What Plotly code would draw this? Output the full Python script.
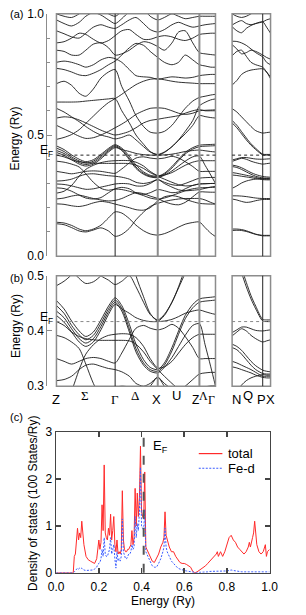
import plotly.graph_objects as go

# ---------------- data ----------------
K_MAIN = [0, 8, 16, 24, 31, 39, 47, 55, 62, 69, 77, 84, 92, 99, 107,
          114, 122, 129, 136, 144, 151, 157, 163, 168]
K_SIDE = [0, 5, 10, 15, 20, 25, 32.4, 36.5, 40.7]
SYM_MAIN = [62, 107, 151]          # Gamma, X, Z
SYM_SIDE = [32.4]                  # P
LABELS_MAIN = ['Z', 'Σ', 'Γ', 'Δ', 'X', 'U', 'Z', 'Λ', 'Γ']
LABEL_K_MAIN = [0, 30.2, 61.7, 82.7, 105.4, 126.7, 146.5, 155.0, 163.5]
LABELS_SIDE = ['N', 'Q', 'P', 'X']
LABEL_K_SIDE = [4.2, 16.7, 31.0, 40.7]
EF = 0.417
EF_DOS = 0.41

BANDS_MAIN = [
    [0.134,0.130,0.118,0.104,0.100,0.108,0.117,0.104,0.082, 0.090,0.115,0.150,0.182,0.205,0.218, 0.226,0.232,0.236,0.238,0.238,0.238, 0.232,0.222,0.215],
    [0.140,0.137,0.127,0.112,0.105,0.112,0.128,0.158,0.183, 0.178,0.155,0.128,0.105,0.092,0.087, 0.093,0.106,0.120,0.132,0.139,0.141, 0.118,0.095,0.081],
    [0.216,0.214,0.208,0.205,0.210,0.220,0.226,0.222,0.215, 0.208,0.200,0.192,0.190,0.200,0.228, 0.245,0.250,0.245,0.235,0.225,0.218, 0.216,0.215,0.215],
    [0.236,0.240,0.248,0.252,0.246,0.238,0.232,0.228,0.230, 0.238,0.252,0.262,0.258,0.248,0.238, 0.225,0.215,0.212,0.222,0.245,0.265, 0.265,0.264,0.264],
    [0.282,0.279,0.268,0.252,0.240,0.236,0.242,0.262,0.278, 0.284,0.278,0.262,0.255,0.262,0.275, 0.270,0.262,0.265,0.278,0.292,0.298, 0.299,0.300,0.300],
    [0.298,0.296,0.290,0.282,0.276,0.278,0.285,0.292,0.298, 0.300,0.298,0.290,0.290,0.300,0.316, 0.300,0.285,0.274,0.270,0.272,0.275, 0.280,0.285,0.288],
    [0.310,0.312,0.318,0.330,0.338,0.340,0.336,0.332,0.330, 0.326,0.318,0.305,0.300,0.305,0.316, 0.305,0.295,0.292,0.300,0.312,0.322, 0.324,0.325,0.325],
    [0.350,0.345,0.340,0.345,0.350,0.352,0.350,0.345,0.342, 0.360,0.385,0.405,0.410,0.405,0.402, 0.405,0.412,0.405,0.390,0.370,0.350, 0.350,0.350,0.350],
    [0.455,0.440,0.418,0.400,0.390,0.398,0.420,0.445,0.460, 0.446,0.412,0.376,0.348,0.334,0.330, 0.342,0.370,0.400,0.428,0.448,0.458, 0.460,0.461,0.462],
    [0.446,0.432,0.410,0.393,0.384,0.392,0.414,0.440,0.456, 0.441,0.404,0.368,0.342,0.330,0.327, 0.338,0.364,0.394,0.422,0.442,0.452, 0.454,0.455,0.456],
    [0.436,0.424,0.404,0.386,0.378,0.386,0.408,0.435,0.452, 0.436,0.398,0.362,0.338,0.327,0.324, 0.334,0.352,0.372,0.392,0.410,0.413, 0.375,0.335,0.300],
    [0.428,0.416,0.398,0.380,0.372,0.380,0.402,0.430,0.448, 0.440,0.432,0.424,0.419,0.417,0.417, 0.418,0.421,0.426,0.432,0.436,0.438, 0.435,0.432,0.430],
    [0.417,0.410,0.398,0.390,0.386,0.384,0.383,0.383,0.383, 0.383,0.382,0.376,0.362,0.345,0.330, 0.318,0.305,0.295,0.290,0.292,0.298, 0.299,0.300,0.300],
    [0.392,0.388,0.380,0.368,0.340,0.305,0.280,0.272,0.277, 0.275,0.268,0.260,0.250,0.240,0.235, 0.240,0.250,0.260,0.270,0.278,0.282, 0.283,0.284,0.284],
    [0.260,0.268,0.292,0.330,0.358,0.375,0.386,0.392,0.394, 0.395,0.394,0.388,0.372,0.350,0.333, 0.335,0.345,0.360,0.375,0.388,0.394, 0.394,0.394,0.394],
    [0.636,0.636,0.636,0.637,0.640,0.643,0.646,0.649,0.650, 0.600,0.550,0.500,0.462,0.432,0.418, 0.428,0.452,0.480,0.515,0.560,0.620, 0.635,0.645,0.649],
    [0.610,0.595,0.575,0.555,0.535,0.515,0.500,0.492,0.484, 0.490,0.500,0.480,0.452,0.430,0.420, 0.430,0.452,0.478,0.505,0.540,0.580, 0.576,0.572,0.570],
    [0.482,0.490,0.502,0.522,0.548,0.578,0.608,0.634,0.650, 0.668,0.690,0.708,0.722,0.730,0.732, 0.728,0.722,0.718,0.716,0.714,0.712, 0.712,0.712,0.712],
    [0.540,0.525,0.510,0.495,0.486,0.489,0.500,0.515,0.530, 0.545,0.565,0.585,0.600,0.610,0.612, 0.610,0.600,0.590,0.585,0.590,0.600, 0.602,0.603,0.604],
    [0.712,0.722,0.705,0.672,0.660,0.690,0.735,0.760,0.770, 0.700,0.640,0.580,0.535,0.512,0.508, 0.515,0.540,0.575,0.610,0.640,0.655, 0.660,0.665,0.668],
    [0.800,0.805,0.800,0.790,0.780,0.790,0.810,0.820,0.815, 0.800,0.770,0.745,0.740,0.738,0.730, 0.735,0.740,0.738,0.735,0.738,0.745, 0.748,0.750,0.750],
    [0.775,0.770,0.760,0.748,0.745,0.755,0.770,0.790,0.805, 0.830,0.860,0.878,0.870,0.845,0.820, 0.800,0.790,0.800,0.830,0.810,0.790, 0.785,0.780,0.780],
    [0.850,0.845,0.830,0.830,0.850,0.875,0.880,0.860,0.830, 0.835,0.850,0.870,0.885,0.880,0.865, 0.850,0.880,0.925,0.930,0.880,0.840, 0.835,0.832,0.830],
    [0.880,0.885,0.900,0.920,0.915,0.895,0.880,0.890,0.910, 0.930,0.935,0.915,0.895,0.895,0.905, 0.910,0.905,0.895,0.890,0.900,0.915, 0.918,0.920,0.920],
    [0.930,0.918,0.905,0.900,0.920,0.945,0.955,0.945,0.940, 0.955,0.975,0.985,0.960,0.935,0.925, 0.935,0.955,0.965,0.955,0.945,0.950, 0.955,0.958,0.960],
    [0.975,0.960,0.950,0.965,0.990,1.005,0.995,0.975,0.960, 0.980,1.010,1.030,1.020,0.990,0.975, 0.985,1.000,0.990,0.980,0.985,0.990, 0.990,0.990,0.990],
    [1.000,0.990,0.985,1.000,1.020,1.030,1.020,1.000,0.990, 1.010,1.040,1.060,1.050,1.030,1.010, 1.020,1.040,1.030,1.020,1.010,1.005, 1.005,1.005,1.005],
    [0.570,0.575,0.572,0.562,0.550,0.535,0.520,0.508,0.500, 0.505,0.515,0.530,0.550,0.560,0.565, 0.570,0.575,0.580,0.590,0.600,0.605, 0.600,0.600,0.600],
]

BANDS_SIDE = [
    [0.550,0.530,0.505,0.480,0.458,0.440,0.418,0.417,0.417],
    [0.560,0.540,0.514,0.488,0.464,0.445,0.421,0.420,0.420],
    [0.609,0.595,0.575,0.555,0.535,0.518,0.508,0.510,0.512],
    [0.397,0.402,0.407,0.407,0.404,0.401,0.400,0.401,0.402],
    [0.391,0.398,0.404,0.400,0.392,0.386,0.380,0.382,0.384],
    [0.376,0.372,0.365,0.355,0.345,0.337,0.329,0.327,0.326],
    [0.370,0.366,0.358,0.348,0.338,0.330,0.323,0.322,0.322],
    [0.345,0.342,0.338,0.334,0.330,0.325,0.318,0.318,0.318],
    [0.335,0.333,0.330,0.327,0.324,0.320,0.316,0.315,0.315],
    [0.280,0.290,0.302,0.310,0.315,0.318,0.321,0.320,0.320],
    [0.249,0.249,0.248,0.246,0.243,0.240,0.238,0.238,0.238],
    [0.236,0.232,0.226,0.222,0.224,0.229,0.234,0.234,0.234],
    [0.112,0.112,0.110,0.105,0.098,0.091,0.086,0.086,0.086],
    [0.106,0.107,0.106,0.102,0.096,0.090,0.084,0.084,0.084],
    [0.706,0.725,0.750,0.762,0.768,0.771,0.773,0.760,0.732],
    [0.827,0.845,0.850,0.825,0.800,0.790,0.780,0.760,0.740],
    [0.873,0.855,0.835,0.840,0.850,0.845,0.830,0.820,0.813],
    [0.887,0.886,0.880,0.870,0.855,0.840,0.822,0.800,0.790],
    [0.954,0.965,0.972,0.960,0.955,0.960,0.967,0.975,0.980],
    [0.947,0.930,0.922,0.940,0.952,0.960,0.967,0.945,0.920],
    [1.000,0.990,0.985,0.990,1.000,1.010,1.020,1.010,1.000],
]

DOS_E = [0.00, 0.08, 0.085, 0.09, 0.10, 0.105, 0.11, 0.115, 0.12, 0.125,
         0.13, 0.14, 0.15, 0.16, 0.17, 0.18, 0.19, 0.195, 0.20, 0.205,
         0.21, 0.215, 0.22, 0.225, 0.23, 0.235, 0.24, 0.245, 0.25, 0.255,
         0.26, 0.265, 0.27, 0.275, 0.28, 0.285, 0.29, 0.295, 0.30, 0.305,
         0.31, 0.315, 0.32, 0.325, 0.33, 0.335, 0.34, 0.345, 0.35, 0.355,
         0.36, 0.365, 0.37, 0.375, 0.38, 0.385, 0.39, 0.395, 0.40, 0.405,
         0.41, 0.415, 0.42, 0.425, 0.43, 0.44, 0.45, 0.46, 0.47, 0.48,
         0.49, 0.50, 0.505, 0.51, 0.515, 0.52, 0.53, 0.54, 0.55, 0.56,
         0.57, 0.58, 0.59, 0.60, 0.61, 0.62, 0.63, 0.64, 0.65, 0.66,
         0.67, 0.68, 0.69, 0.70, 0.71, 0.72, 0.73, 0.74, 0.75, 0.755,
         0.76, 0.77, 0.775, 0.78, 0.79, 0.80, 0.81, 0.82, 0.83, 0.84,
         0.85, 0.86, 0.87, 0.88, 0.89, 0.90, 0.905, 0.91, 0.92, 0.925,
         0.93, 0.935, 0.94, 0.95, 0.96, 0.97, 0.98, 0.985, 0.99, 1.00]

DOS_TOTAL = [0, 0, 0.35, 0.4, 0.95, 0.7, 0.85, 0.75, 1.1, 0.8,
             0.6, 0.35, 0.28, 0.25, 0.22, 0.2, 0.3, 0.55, 0.7, 0.5,
             0.65, 1.45, 0.9, 2.3, 0.85, 0.75, 0.7, 0.95, 0.8, 1.25,
             0.7, 0.9, 1.2, 0.6, 0.45, 0.7, 0.4, 0.45, 0.4, 0.5,
             1.75, 0.7, 0.5, 0.45, 0.45, 0.5, 0.5, 0.55, 0.6, 0.9,
             0.6, 0.75, 1.8, 1.0, 1.7, 1.2, 1.6, 2.7, 1.3, 1.2,
             1.15, 2.15, 0.55, 0.5, 0.45, 0.35, 0.25, 0.22, 0.3, 0.4,
             0.55, 0.65, 0.75, 1.3, 0.8, 0.7, 0.55, 0.45, 0.45, 0.35,
             0.28, 0.22, 0.2, 0.2, 0.18, 0.15, 0.12, 0.03, 0.0, 0.02,
             0.05, 0.08, 0.12, 0.15, 0.2, 0.25, 0.28, 0.35, 0.4, 0.45,
             0.35, 0.45, 0.4, 0.35, 0.45, 0.6, 0.75, 0.8, 0.7, 0.65,
             0.55, 0.5, 0.45, 0.4, 0.45, 0.55, 0.65, 0.55, 0.75, 0.85,
             1.1, 0.9, 0.6, 0.45, 0.4, 0.45, 0.6, 0.35, 0.45, 0.5]

DOS_FED = [0, 0, 0.02, 0.05, 0.1, 0.08, 0.1, 0.08, 0.1, 0.08,
           0.06, 0.05, 0.05, 0.05, 0.06, 0.08, 0.12, 0.18, 0.2, 0.22,
           0.3, 0.5, 0.35, 0.75, 0.4, 0.35, 0.35, 0.45, 0.5, 0.75,
           0.4, 0.5, 0.6, 0.3, 0.1, 0.45, 0.25, 0.3, 0.25, 0.35,
           1.15, 0.45, 0.35, 0.3, 0.3, 0.35, 0.4, 0.4, 0.45, 0.6,
           0.5, 0.55, 1.2, 0.75, 1.05, 0.9, 1.3, 2.25, 1.0, 0.95,
           0.9, 1.35, 0.45, 0.4, 0.35, 0.25, 0.15, 0.12, 0.12, 0.2,
           0.3, 0.45, 0.55, 0.95, 0.55, 0.45, 0.35, 0.25, 0.2, 0.15,
           0.1, 0.08, 0.06, 0.05, 0.04, 0.03, 0.02, 0.01, 0.0, 0.0,
           0.01, 0.01, 0.02, 0.02, 0.02, 0.03, 0.03, 0.03, 0.03, 0.03,
           0.03, 0.03, 0.03, 0.03, 0.04, 0.04, 0.05, 0.06, 0.05, 0.04,
           0.03, 0.03, 0.02, 0.02, 0.02, 0.02, 0.02, 0.02, 0.02, 0.02,
           0.03, 0.02, 0.02, 0.02, 0.02, 0.02, 0.02, 0.02, 0.02, 0.02]

LEGEND_NAMES = ["total", "Fe-d"]
TOTAL_COLOR = "#ff2a2a"
FED_COLOR = "#3a5cff"

# ---------------- layout helpers ----------------
W, H = 306, 615
def px(x):
    return x / W
def py(y):
    return 1 - y / H

FONT = "Liberation Sans, Arial, sans-serif"
SERIF = "Liberation Serif, Times New Roman, serif"
BAND_COLOR = "#1a1a1a"
FRAME_COLOR = "#8c8c8c"

fig = go.Figure()

panels = [("x", "y", "x2", "y2"), ("x3", "y3", "x4", "y4")]
for xa, ya, xs, ys in panels:
    for band in BANDS_MAIN:
        fig.add_trace(go.Scatter(x=K_MAIN, y=band, xaxis=xa, yaxis=ya, mode="lines",
                                 line=dict(color=BAND_COLOR, width=0.9, shape="spline", smoothing=0.8),
                                 hoverinfo="skip", showlegend=False))
    for band in BANDS_SIDE:
        fig.add_trace(go.Scatter(x=K_SIDE, y=band, xaxis=xs, yaxis=ys, mode="lines",
                                 line=dict(color=BAND_COLOR, width=0.9, shape="spline", smoothing=0.8),
                                 hoverinfo="skip", showlegend=False))

fig.add_trace(go.Scatter(x=DOS_E, y=DOS_TOTAL, xaxis="x5", yaxis="y5", mode="lines",
                         name=LEGEND_NAMES[0], showlegend=False,
                         line=dict(color=TOTAL_COLOR, width=1.0)))
fig.add_trace(go.Scatter(x=DOS_E, y=DOS_FED, xaxis="x5", yaxis="y5", mode="lines",
                         name=LEGEND_NAMES[1], showlegend=False,
                         line=dict(color=FED_COLOR, width=1.0, dash="2px,1.5px")))

MAIN_X = [px(51.3), px(219.7)]
SIDE_X = [px(237.3), px(278.0)]
A_Y = [py(255), py(7)]
B_Y = [py(388), py(275)]
C_X = [px(51), px(277)]
C_Y = [py(579), py(435)]
YAX_POS = px(40.5)

hidden_x = dict(visible=False, showgrid=False, zeroline=False)
fig.update_layout(
    width=W, height=H, autosize=False,
    margin=dict(l=0, r=0, t=0, b=0),
    paper_bgcolor="white", plot_bgcolor="rgba(0,0,0,0)",
    font=dict(family=FONT, size=12, color="black"),
    showlegend=False,
    xaxis=dict(domain=MAIN_X, range=[0, 168], anchor="y", **hidden_x),
    yaxis=dict(domain=A_Y, range=[0, 1], anchor="free", position=YAX_POS,
               showline=True, linecolor=FRAME_COLOR, linewidth=1,
               ticks="inside", ticklen=5, tickcolor=FRAME_COLOR,
               tickvals=[0, 0.5, 1.0], ticktext=["0.0", "0.5", "1.0"],
               tickfont=dict(size=12),
               minor=dict(dtick=0.1, ticks="inside", ticklen=3, tickcolor=FRAME_COLOR),
               showgrid=False, zeroline=False),
    xaxis2=dict(domain=SIDE_X, range=[0, 40.7], anchor="y2", **hidden_x),
    yaxis2=dict(domain=A_Y, range=[0, 1], anchor="x2", visible=False, showgrid=False, zeroline=False),
    xaxis3=dict(domain=MAIN_X, range=[0, 168], anchor="y3", **hidden_x),
    yaxis3=dict(domain=B_Y, range=[0.3, 0.5], anchor="free", position=YAX_POS,
                showline=True, linecolor=FRAME_COLOR, linewidth=1,
                ticks="inside", ticklen=5, tickcolor=FRAME_COLOR,
                tickvals=[0.3, 0.4, 0.5], ticktext=["0.3", "0.4", "0.5"],
                tickfont=dict(size=12), showgrid=False, zeroline=False),
    xaxis4=dict(domain=SIDE_X, range=[0, 40.7], anchor="y4", **hidden_x),
    yaxis4=dict(domain=B_Y, range=[0.3, 0.5], anchor="x4", visible=False, showgrid=False, zeroline=False),
    xaxis5=dict(domain=C_X, range=[0, 1], anchor="y5", showline=True, mirror="ticks",
                linecolor="#444", linewidth=1.5, ticks="inside", ticklen=5, tickcolor="#444",
                tickwidth=1.5, tickvals=[0, 0.2, 0.4, 0.6, 0.8, 1.0],
                ticktext=["0.0", "0.2", "0.4", "0.6", "0.8", "1.0"],
                tickfont=dict(size=12), ticklabelstandoff=2,
                showgrid=False, zeroline=False),
    yaxis5=dict(domain=C_Y, range=[0, 3], anchor="x5", showline=True, mirror="ticks",
                linecolor="#444", linewidth=1.5, ticks="inside", ticklen=5, tickcolor="#444",
                tickwidth=1.5, tickvals=[0, 1, 2, 3], tickfont=dict(size=12),
                showgrid=False, zeroline=False),
)

shapes = []
for xa, ya in [("x", "y"), ("x2", "y2"), ("x3", "y3"), ("x4", "y4")]:
    shapes.append(dict(type="rect", xref=f"{xa} domain", yref=f"{ya} domain",
                       x0=0, x1=1, y0=0, y1=1, line=dict(color=FRAME_COLOR, width=1.5)))
sym_styles = [dict(color="#222", width=1), dict(color=FRAME_COLOR, width=2), dict(color=FRAME_COLOR, width=2)]
for xa, ya in [("x", "y"), ("x3", "y3")]:
    for k, st in zip(SYM_MAIN, sym_styles):
        shapes.append(dict(type="line", xref=xa, yref=f"{ya} domain", x0=k, x1=k, y0=0, y1=1, line=st))
for xa, ya in [("x2", "y2"), ("x4", "y4")]:
    for k in SYM_SIDE:
        shapes.append(dict(type="line", xref=xa, yref=f"{ya} domain", x0=k, x1=k, y0=0, y1=1,
                           line=dict(color="#222", width=1)))
for xa, ya, col in [("x", "y", "#222"), ("x2", "y2", "#222"), ("x3", "y3", "#888"), ("x4", "y4", "#888")]:
    shapes.append(dict(type="line", xref=f"{xa} domain", yref=ya, x0=0, x1=1, y0=EF, y1=EF,
                       line=dict(color=col, width=1, dash="dot")))
shapes.append(dict(type="line", xref="x5", yref="y5 domain", x0=EF_DOS, x1=EF_DOS, y0=0, y1=1,
                   line=dict(color="#555", width=2, dash="dash")))
shapes.append(dict(type="line", xref="paper", yref="paper", x0=px(202), x1=px(227),
                   y0=py(457), y1=py(457), line=dict(color=TOTAL_COLOR, width=1.2)))
shapes.append(dict(type="line", xref="paper", yref="paper", x0=px(202), x1=px(227),
                   y0=py(472), y1=py(472), line=dict(color=FED_COLOR, width=1.2, dash="2px,1.5px")))
fig.update_layout(shapes=shapes)

ann = []
for txt, y in [("(a)", 7), ("(b)", 277), ("(c)", 420)]:
    ann.append(dict(text=txt, xref="paper", yref="paper", x=0, y=py(y), xanchor="left",
                    yanchor="middle", showarrow=False, font=dict(size=11)))
for txt, x, y in [("Energy (Ry)", 7, 135), ("Energy (Ry)", 8, 327),
                  ("Density of states (100 States/Ry)", 27, 508)]:
    ann.append(dict(text=txt, xref="paper", yref="paper", x=px(x), y=py(y), textangle=-90,
                    xanchor="center", yanchor="middle", showarrow=False, font=dict(size=12)))
for ya in ["y", "y3"]:
    ann.append(dict(text="E<sub>F</sub>", xref="paper", yref=ya, x=px(32), y=EF, xanchor="left",
                    yanchor="middle", yshift=4, showarrow=False, font=dict(size=12)))
ann.append(dict(text="E<sub>F</sub>", xref="paper", yref="paper", x=px(151), y=py(450), xanchor="left",
                yanchor="middle", showarrow=False, font=dict(size=13)))
ann.append(dict(text="Energy (Ry)", xref="paper", yref="paper", x=px(164), y=py(608),
                xanchor="center", yanchor="middle", showarrow=False, font=dict(size=12)))
for name, y in zip(LEGEND_NAMES, [457, 472]):
    ann.append(dict(text=name, xref="paper", yref="paper", x=px(231), y=py(y), xanchor="left",
                    yanchor="middle", showarrow=False, font=dict(size=13)))
greek = set("ΣΓΔΛ")
raised = set("ΣΔUΛQ")
for lab, k in zip(LABELS_MAIN, LABEL_K_MAIN):
    ann.append(dict(text=lab, xref="x3", yref="paper", x=k, y=py(398 if lab in raised else 402),
                    xanchor="center", yanchor="middle", showarrow=False,
                    font=dict(size=12 if k > 140 else 13, family=SERIF if lab in greek else FONT)))
for lab, k in zip(LABELS_SIDE, LABEL_K_SIDE):
    ann.append(dict(text=lab, xref="x4", yref="paper", x=k, y=py(398 if lab in raised else 402),
                    xanchor="center", yanchor="middle", showarrow=False, font=dict(size=13)))
fig.update_layout(annotations=ann)

fig.write_html("out.html", config={"displayModeBar": False, "staticPlot": True},
               post_script="document.body.style.margin='0px';document.body.style.overflow='hidden';")
